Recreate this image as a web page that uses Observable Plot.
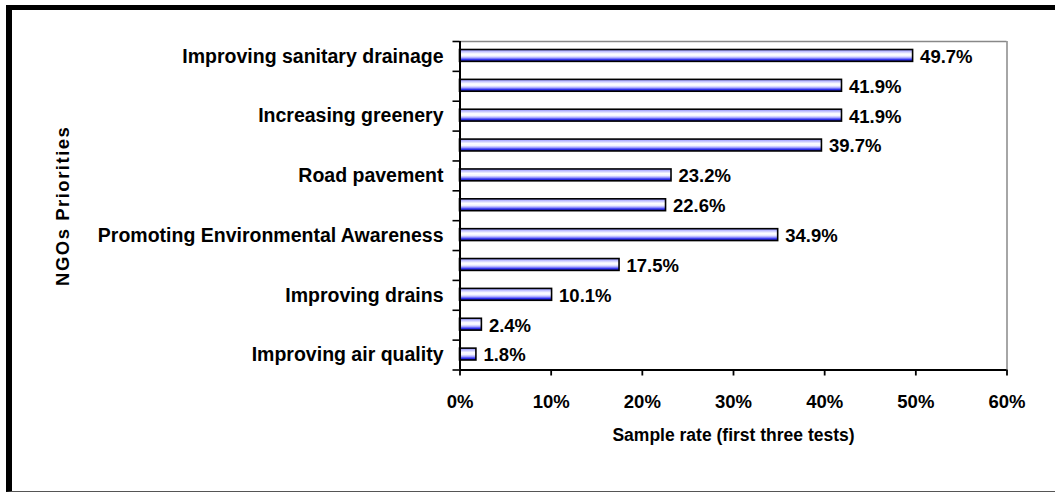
<!DOCTYPE html>
<html>
<head>
<meta charset="utf-8">
<script src="https://cdn.jsdelivr.net/npm/d3@7"></script>
<script src="https://cdn.jsdelivr.net/npm/@observablehq/plot@0.6"></script>
<style>
  html, body { margin: 0; padding: 0; background: #fff; overflow: hidden; }
  #wrap { position: relative; width: 1055px; height: 493px; overflow: hidden; font-family: "Liberation Sans", Arial, sans-serif; }
  #chart { position: absolute; left: 0; top: 0; }
  #frame { position: absolute; left: 6px; top: 5px; width: 1060px; height: 481px;
           border-top: 5px solid #000; border-left: 6px solid #000; border-bottom: 1px solid #555;
           box-sizing: content-box; pointer-events: none; }
</style>
</head>
<body>
<div id="wrap"><div id="chart"></div><div id="frame"></div></div>
<script>
// Categories listed top to bottom; alternate labels are not shown in the reference
const categories = [
  "Improving sanitary drainage",
  "",
  "Increasing greenery",
  "",
  "Road pavement",
  "",
  "Promoting Environmental Awareness",
  "",
  "Improving drains",
  "",
  "Improving air quality"
];
const values = [49.7, 41.9, 41.9, 39.7, 23.2, 22.6, 34.9, 17.5, 10.1, 2.4, 1.8];
const xTicks = [0, 10, 20, 30, 40, 50, 60];
const xTitle = "Sample rate (first three tests)";
const yTitle = "NGOs Priorities";

const data = values.map((v, i) => ({i, name: categories[i], value: v}));
const n = categories.length;
const boundaries = d3.range(0, n + 1);
const centers = d3.range(0, n).map(i => i + 0.5);

const font = "Liberation Sans, Arial, sans-serif";

const chart = Plot.plot({
  width: 1055,
  height: 493,
  marginLeft: 459.5,
  marginRight: 48.5,
  marginTop: 41,
  marginBottom: 123.5,
  style: {fontFamily: font, color: "#000", background: "transparent"},
  x: {domain: [0, 60]},
  y: {domain: [n, 0]},
  marks: [
    Plot.ruleY([0], {stroke: "#888", strokeWidth: 1.5}),
    Plot.ruleX([60], {stroke: "#888", strokeWidth: 1.5}),
    Plot.rectX(data, {
      x: "value", y1: "i", y2: d => d.i + 1,
      insetTop: 8.5, insetBottom: 9.5,
      fill: "url(#barGrad)", stroke: "#000", strokeWidth: 1.6
    }),
    Plot.text(data, {
      x: "value", y: d => d.i + 0.5,
      text: d => d.value.toFixed(1) + "%",
      textAnchor: "start", dx: 7, dy: 0.5,
      fontSize: 18.5, fontWeight: "bold", fill: "#000"
    }),
    Plot.axisY({ticks: boundaries, tickSize: 7, tickFormat: () => "", strokeWidth: 1.6, label: null}),
    Plot.axisY({ticks: centers, tickSize: 0, tickPadding: 16.5, tickFormat: d => categories[Math.round(d - 0.5)],
                fontSize: 19.5, fontWeight: "bold", label: null}),
    Plot.axisX({ticks: xTicks, tickFormat: d => d + "%", tickSize: 6, tickPadding: 18.5,
                fontSize: 18.5, fontWeight: "bold", strokeWidth: 1.8, label: null}),
    Plot.ruleY([n], {stroke: "#000", strokeWidth: 2.2}),
    Plot.ruleX([0], {stroke: "#000", strokeWidth: 2}),
    Plot.text([xTitle], {frameAnchor: "bottom", dy: 71, fontSize: 17.5, fontWeight: "bold", fill: "#000"}),
    Plot.text([yTitle], {x: () => 0, y: () => n / 2, dx: -396.5, rotate: -90, fontSize: 18.5, fontWeight: "bold",
                         fill: "#000"})
  ]
});

// Gradient used by the bars
const svgNS = "http://www.w3.org/2000/svg";
const svg = chart.tagName.toLowerCase() === "svg" ? chart : chart.querySelector("svg");
const defs = document.createElementNS(svgNS, "defs");
const grad = document.createElementNS(svgNS, "linearGradient");
grad.setAttribute("id", "barGrad");
grad.setAttribute("x1", "0"); grad.setAttribute("y1", "0");
grad.setAttribute("x2", "0"); grad.setAttribute("y2", "1");
[["0", "#8c8cff"], ["0.2", "#c8c8ff"], ["0.38", "#ffffff"], ["0.55", "#f2f2ff"],
 ["0.7", "#a8a8ff"], ["0.85", "#3030f0"], ["1", "#1a1aa8"]].forEach(([o, c]) => {
  const s = document.createElementNS(svgNS, "stop");
  s.setAttribute("offset", o); s.setAttribute("stop-color", c);
  grad.appendChild(s);
});
defs.appendChild(grad);
svg.insertBefore(defs, svg.firstChild);
// Wider letter spacing on the vertical axis title, as in the reference
svg.querySelectorAll("text").forEach(t => {
  if (t.textContent === yTitle) t.style.letterSpacing = "1.5px";
});

document.getElementById("chart").appendChild(chart);
</script>
</body>
</html>
